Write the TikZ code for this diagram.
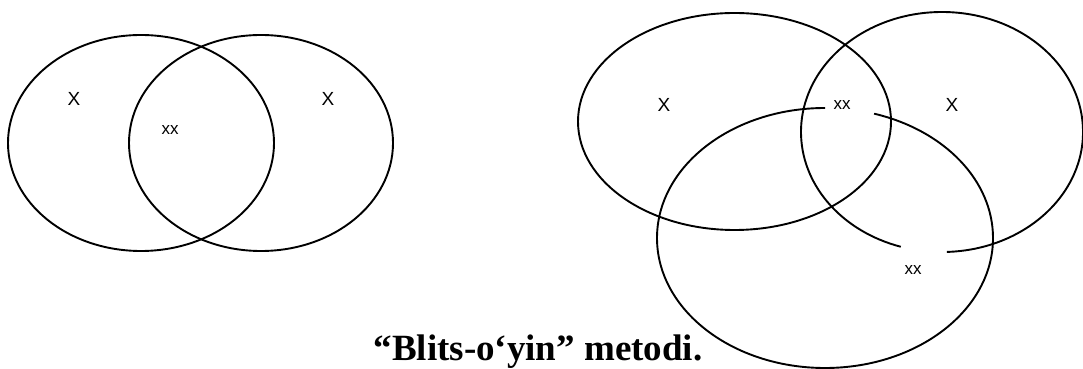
\documentclass[tikz,border=0pt]{standalone}
\usepackage{fontspec}
\setmainfont{Liberation Serif}
\newfontfamily\labelfont{Liberation Sans}
\begin{document}
\begin{tikzpicture}[
  x=1pt,y=1pt,
  venn/.style={draw,line width=1.9pt},
  bigx/.style={font=\labelfont\fontsize{19}{19}\selectfont,inner sep=0pt},
  smallx/.style={font=\labelfont\fontsize{17}{17}\selectfont,inner sep=0pt}
]
  \useasboundingbox (0,0) rectangle (1083,369);

  % two sets
  \draw[venn] (141,226) ellipse[x radius=133pt,y radius=108pt];
  \draw[venn] (261,226) ellipse[x radius=132pt,y radius=108pt];
  \node[bigx] (leftA) at (74,270) {X};
  \node[bigx] (leftB) at (328,270) {X};
  \node[smallx] (leftAB) at (170,239) {xx};

  % three sets
  \draw[venn] (734.5,247.5) ellipse[x radius=156.5pt,y radius=108.5pt];
  \draw[venn] ([shift={(942,237)}]272:141pt and 120pt)
    arc[start angle=272,end angle=613,x radius=141pt,y radius=120pt];
  \draw[venn] ([shift={(825,131)}]90:168pt and 130pt)
    arc[start angle=90,end angle=433,x radius=168pt,y radius=130pt];
  \node[bigx] (rightA) at (664,264) {X};
  \node[bigx] (rightB) at (952,264) {X};
  \node[smallx] (rightAB) at (842,264) {xx};
  \node[smallx] (rightBC) at (913,99) {xx};

  \node[font=\bfseries\fontsize{37}{37}\selectfont,anchor=base,inner sep=0pt]
    (title) at (538,9) {“Blits-o‘yin” metodi.};
\end{tikzpicture}
\end{document}
